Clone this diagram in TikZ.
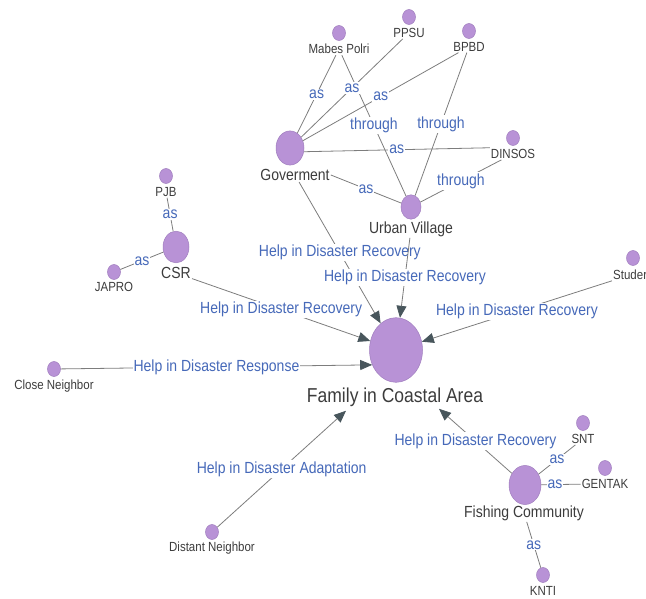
\documentclass[tikz,border=0pt]{standalone}
\usepackage{fontspec}
\setmainfont{Liberation Sans}
\usetikzlibrary{arrows.meta,positioning,shapes.geometric}
\definecolor{nodefill}{RGB}{184,146,214}
\definecolor{nodeline}{RGB}{160,125,190}
\definecolor{edgegray}{RGB}{125,125,125}
\definecolor{tipgray}{RGB}{72,86,92}
\definecolor{labelblue}{RGB}{70,105,185}
\definecolor{namegray}{RGB}{60,60,60}
\tikzset{
    %Define standard arrow tip
    >={Triangle[length=12pt,width=10pt,color=tipgray]},
    %Define style for nodes
    dot/.style={
           ellipse,
           fill=nodefill,
           draw=nodeline, line width=0.5pt,
           minimum width=13pt,
           minimum height=15pt,
           inner sep=0pt},
    hub/.style={dot, minimum width=#1, minimum height=1.22*#1},
    nametext/.style={
           text=namegray,
           font=\fontsize{11.5}{13}\selectfont,
           yscale=1.15,
           inner sep=1pt},
    hubtext/.style={nametext, font=\fontsize{14}{16}\selectfont},
    % Define edge label style
    lab/.style={
           text=labelblue,
           font=\fontsize{14}{16}\selectfont,
           yscale=1.15,
           fill=white,
           inner sep=1pt},
    % Define line styles
    link/.style={draw=edgegray, line width=0.8pt},
    pil/.style={link, ->}
}
\begin{document}
\begin{tikzpicture}[x=1pt,y=-1pt]
\useasboundingbox (0,0) rectangle (646,599);
 %nodes
\node[hub=53pt] (family) at (396,350) {};
\node[hubtext, font=\fontsize{17.5}{20}\selectfont] (famt) at (395,397) {Family in Coastal Area};
\node[hub=28pt] (gov) at (290,148) {};
\node[hubtext] (govt) at (295,175) {Goverment};
\node[hub=20pt] (urban) at (411,207) {};
\node[hubtext] (urbant) at (411,229) {Urban Village};
\node[hub=26pt] (csr) at (176,247) {};
\node[hubtext] (csrt) at (176,273) {CSR};
\node[hub=32pt] (fish) at (525,485) {};
\node[hubtext] (fisht) at (524,513) {Fishing Community};

\node[dot] (mabes) at (339,33) {};
\node[nametext, below=2pt of mabes] (mabest) {Mabes Polri};
\node[dot] (ppsu) at (409,17) {};
\node[nametext, below=2pt of ppsu] (ppsut) {PPSU};
\node[dot] (bpbd) at (469,31) {};
\node[nametext, below=2pt of bpbd] (bpbdt) {BPBD};
\node[dot] (dinsos) at (513,138) {};
\node[nametext, below=2pt of dinsos] (dinsost) {DINSOS};
\node[dot] (pjb) at (166,176) {};
\node[nametext, below=2pt of pjb] (pjbt) {PJB};
\node[dot] (japro) at (114,272) {};
\node[nametext, below=1pt of japro] (japrot) {JAPRO};
\node[dot] (stud) at (633,258) {};
\node[nametext, anchor=west] (studt) at (612,275) {Studer};
\node[dot] (close) at (54,369) {};
\node[nametext, below=2pt of close] (closet) {Close Neighbor};
\node[dot] (distant) at (212,532) {};
\node[nametext, below=1pt of distant] (distantt) {Distant Neighbor};
\node[dot] (snt) at (583,423) {};
\node[nametext, below=2pt of snt] (sntt) {SNT};
\node[dot] (gentak) at (605,468) {};
\node[nametext, below=2pt of gentak] (gentakt) {GENTAK};
\node[dot] (knti) at (543,575) {};
\node[nametext, below=2pt of knti] (kntit) {KNTI};

 %links
 \path[link]
 	(mabest) edge node[lab] {as} (gov)
 		edge node[lab] {through} (urban)
 	(ppsut) edge node[lab] {as} (gov)
 	(bpbdt) edge node[lab] {as} (gov)
 		edge node[lab] {through} (urban)
 	(dinsost.north west) edge node[lab] {as} (gov.-15)
 	(dinsost) edge node[lab] {through} (urban)
 	(govt.east) edge node[lab] {as} (urban)
 	(pjbt) edge node[lab] {as} (csr)
 	(japro) edge node[lab] {as} (csr)
 	(sntt) edge node[lab] {as} (fish)
 	(gentakt) edge node[lab, pos=0.65] {as} (fish)
 	(fisht) edge node[lab] {as} (knti);

 %arrows to the family
 \path[pil]
 	(govt) edge node[lab] {Help in Disaster Recovery} (family)
 	(urbant) edge node[lab] {Help in Disaster Recovery} (family)
 	(csrt) edge node[lab] {Help in Disaster Recovery} (family)
 	(studt) edge node[lab] {Help in Disaster Recovery} (family)
 	(close) edge node[lab] {Help in Disaster Response} (family.212)
 	(distant) edge node[lab] {Help in Disaster Adaptation} ([xshift=-49pt,yshift=-3pt]famt.south)
 	(fish) edge node[lab] {Help in Disaster Recovery} ([xshift=44pt,yshift=-1pt]famt.south);
\end{tikzpicture}
\end{document}
